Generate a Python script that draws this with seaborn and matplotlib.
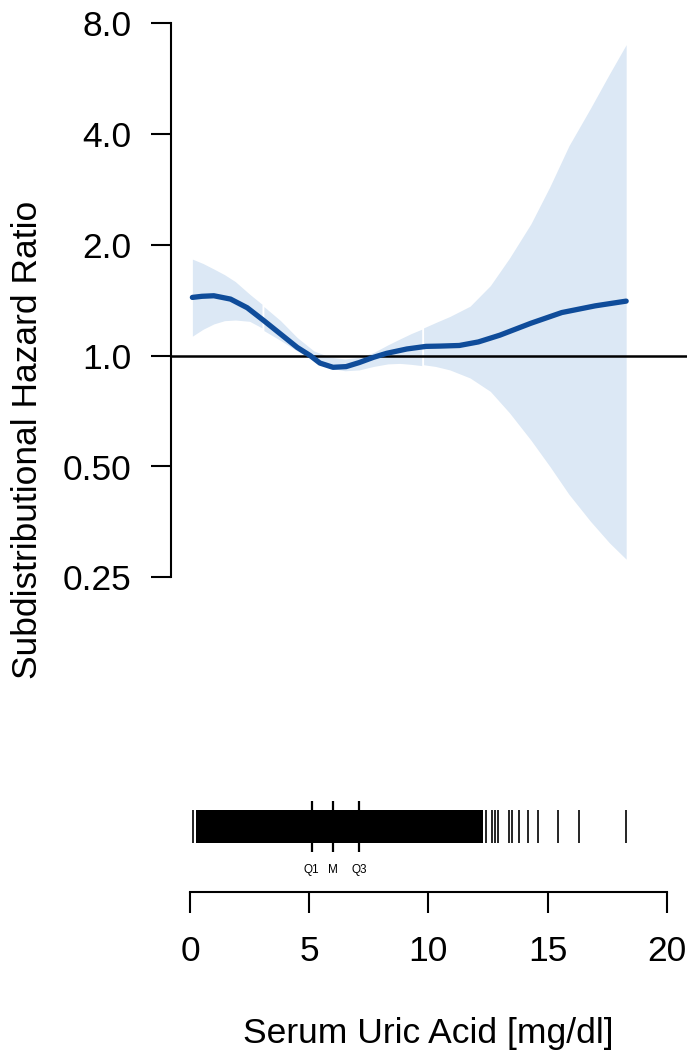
import numpy as np
import matplotlib

matplotlib.use("Agg")
import matplotlib.pyplot as plt
import seaborn as sns

# ----------------------------
# data

# fitted curve (serum uric acid, mg/dl -> sub-distribution hazard ratio)
curve_x = [0.1, 0.5, 1.0, 1.7, 2.4, 3.1, 3.8, 4.5, 5.05, 5.45, 6.0, 6.55, 7.1, 7.7,
           8.25, 9.1, 9.9, 10.5, 11.3, 12.1, 13.0, 14.3, 15.6, 17.0, 18.3]
curve_hr = [1.44, 1.45, 1.455, 1.425, 1.35, 1.245, 1.145, 1.053, 1.0, 0.955, 0.93, 0.934, 0.958, 0.99,
            1.015, 1.043, 1.06, 1.062, 1.066, 1.09, 1.137, 1.225, 1.31, 1.366, 1.407]

# confidence band, drawn in three pieces as in the original
band1_x = [0.1, 0.55, 1.0, 1.45, 1.9, 2.5, 3.02]
band1_lo = [1.13, 1.18, 1.22, 1.245, 1.25, 1.24, 1.19]
band1_hi = [1.83, 1.78, 1.72, 1.66, 1.59, 1.47, 1.38]

band2_x = [3.1, 3.8, 4.5, 5.2, 5.9, 6.5, 7.1, 7.7, 8.3, 8.8, 9.3, 9.72]
band2_lo = [1.17, 1.10, 1.03, 0.97, 0.925, 0.91, 0.915, 0.935, 0.95, 0.953, 0.947, 0.94]
band2_hi = [1.36, 1.245, 1.12, 1.03, 0.99, 0.98, 0.99, 1.02, 1.07, 1.11, 1.15, 1.18]

band3_x = [9.8, 10.3, 10.9, 11.75, 12.6, 13.4, 14.3, 15.1, 15.9, 16.8, 17.6, 18.3]
band3_lo = [0.945, 0.935, 0.915, 0.87, 0.80, 0.70, 0.59, 0.50, 0.42, 0.355, 0.31, 0.28]
band3_hi = [1.19, 1.23, 1.278, 1.363, 1.55, 1.84, 2.28, 2.88, 3.72, 4.70, 5.83, 7.0]

# rug of observed values: a solid block plus single observations
rug_block = (0.25, 12.30)
rug_values = [0.11, 12.41, 12.65, 12.79, 12.93, 13.38, 13.52, 13.81, 14.16,
              14.61, 15.42, 16.31, 18.28]
quart_values = [5.1, 6.0, 7.1]
quart_labels = ['Q1', 'M', 'Q3']

y_ticks = [0.25, 0.5, 1.0, 2.0, 4.0, 8.0]
y_ticklabels = ['0.25', '0.50', '1.0', '2.0', '4.0', '8.0']
x_ticks = [0, 5, 10, 15, 20]

# ----------------------------
# style

sns.set_style("ticks")
plt.rcParams['font.family'] = ['Liberation Sans', 'DejaVu Sans']
plt.rcParams['text.color'] = 'black'

line_col = '#0f4c9a'
band_col = '#dce8f5'
fs = 25.5

W, H = 687, 1056
fig = plt.figure(figsize=(W / 100, H / 100), dpi=100)


def px_box(left, top, right, bottom):
    return [left / W, 1 - bottom / H, (right - left) / W, (bottom - top) / H]


x0_px, x20_px = 190.0, 666.7
ppu = (x20_px - x0_px) / 20.0

# main panel
ax = fig.add_axes(px_box(171, 23.3, 687, 577.3))
ax.set_yscale('log', base=2)
for bx, lo, hi in [(band1_x, band1_lo, band1_hi),
                   (band2_x, band2_lo, band2_hi),
                   (band3_x, band3_lo, band3_hi)]:
    ax.fill_between(bx, lo, hi, color=band_col, linewidth=0)
ax.axhline(1.0, color='black', linewidth=1.8, zorder=3)
sns.lineplot(x=curve_x, y=curve_hr, ax=ax, color=line_col, linewidth=3.8,
             solid_capstyle='round', zorder=4)
ax.set_xlim((171 - x0_px) / ppu, (687 - x0_px) / ppu)
ax.set_ylim(0.25, 8.0)
ax.set_yticks(y_ticks)
ax.set_yticklabels(y_ticklabels)
ax.minorticks_off()
ax.tick_params(axis='y', length=14.5, width=1.5, pad=14, labelsize=fs,
               colors='black', labelcolor='black')
ax.set_xticks([])
for s in ['top', 'right', 'bottom']:
    ax.spines[s].set_visible(False)
ax.spines['left'].set_linewidth(1.5)
ax.spines['left'].set_color('black')

# rug panel
rx = fig.add_axes(px_box(x0_px, 810, x20_px, 843))
rx.axvspan(rug_block[0], rug_block[1], color='black', linewidth=0)
sns.rugplot(x=rug_values, ax=rx, height=1.0, color='black', linewidth=1.2, expand_margins=False)
rx.vlines(quart_values, -0.27, 1.28, color='black', linewidth=1.6,
          transform=rx.get_xaxis_transform(), clip_on=False)
for qv, ql in zip(quart_values, quart_labels):
    rx.text(qv, -0.82, ql, transform=rx.get_xaxis_transform(), ha='center', va='center',
            fontsize=8.5, color='black')
rx.set_xlim(0, 20)
rx.set_ylim(0, 1)
rx.axis('off')

# x axis panel
bx_ax = fig.add_axes(px_box(x0_px, 880, x20_px, 891.7))
bx_ax.set_xlim(0, 20)
bx_ax.set_xticks(x_ticks)
bx_ax.set_yticks([])
bx_ax.tick_params(axis='x', length=15, width=1.5, pad=16, labelsize=fs,
                  colors='black', labelcolor='black')
for s in ['top', 'right', 'left']:
    bx_ax.spines[s].set_visible(False)
bx_ax.spines['bottom'].set_linewidth(1.5)
bx_ax.spines['bottom'].set_color('black')
bx_ax.patch.set_alpha(0)

fig.text((x0_px + x20_px) / 2 / W, 1 - 1043 / H, 'Serum Uric Acid [mg/dl]',
         ha='center', va='baseline', fontsize=fs, color='black')
fig.text(28 / W, 1 - 440 / H, 'Subdistributional Hazard Ratio', rotation=90,
         ha='center', va='center', fontsize=fs, color='black')

fig.savefig('out.png', dpi=100)
